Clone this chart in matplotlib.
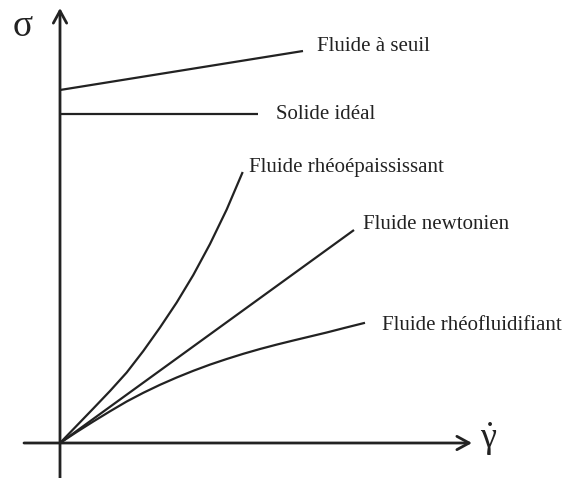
import matplotlib
matplotlib.use('Agg')
import matplotlib.pyplot as plt

# courbes d'ecoulement (unites arbitraires, gamma_dot en x, sigma en y)
seuil_x = [0.0, 24.3]
seuil_y = [35.3, 39.2]

solide_x = [0.0, 19.8]
solide_y = [32.9, 32.9]

newton_x = [0.0, 29.4]
newton_y = [0.0, 21.3]

epais_x = [0.0, 3.33, 5.0, 6.67, 8.33, 10.0, 11.67, 13.33, 15.0, 16.67, 18.27]
epais_y = [0.0, 3.45, 5.2, 7.05, 9.2, 11.55, 14.05, 16.8, 19.9, 23.35, 27.1]

fluid_x = [0.0, 1.67, 3.33, 5.0, 6.67, 8.33, 10.0, 11.67, 13.33, 15.0, 16.67,
           18.33, 20.0, 21.67, 23.33, 25.0, 26.67, 28.5, 30.5]
fluid_y = [0.0, 1.1, 2.15, 3.17, 4.15, 5.02, 5.82, 6.55, 7.22, 7.84, 8.4,
           8.92, 9.4, 9.84, 10.25, 10.65, 11.05, 11.52, 12.02]

labels = ['Fluide à seuil', 'Solide idéal', 'Fluide rhéoépaississant',
          'Fluide newtonien', 'Fluide rhéofluidifiant']
label_pos = [(25.7, 39.6), (21.6, 32.8), (18.9, 27.5), (30.3, 21.8), (32.2, 11.8)]

plt.rcParams['font.family'] = ['Liberation Serif', 'DejaVu Serif']
plt.rcParams['mathtext.fontset'] = 'custom'
plt.rcParams['mathtext.rm'] = 'Liberation Serif'
plt.rcParams['mathtext.it'] = 'Liberation Serif:italic'

col = '#222222'
fig = plt.figure(figsize=(5.64, 4.78), dpi=100)
ax = fig.add_axes([0, 0, 1, 1])
ax.set_xlim(-6.0, 50.4)
ax.set_ylim(-3.5, 44.3)
ax.axis('off')

# axes avec fleches
arrow = dict(arrowstyle='->,head_length=0.55,head_width=0.3', lw=2.0,
             color=col, mutation_scale=16, shrinkA=0, shrinkB=0)
ax.annotate('', xy=(41.2, 0), xytext=(-3.6, 0), arrowprops=arrow)
ax.annotate('', xy=(0, 43.5), xytext=(0, -3.6), arrowprops=arrow)

for xs, ys in [(seuil_x, seuil_y), (solide_x, solide_y), (newton_x, newton_y),
               (epais_x, epais_y), (fluid_x, fluid_y)]:
    ax.plot(xs, ys, color=col, lw=1.6, solid_capstyle='butt', solid_joinstyle='round')

for txt, (x, y) in zip(labels, label_pos):
    ax.text(x, y, txt, fontsize=15, ha='left', va='center', color=col)

# sigma et gamma point
ax.text(-3.7, 41.6, 'σ', fontsize=27, ha='center', va='center', color=col)
ax.text(42.9, 0.4, r'$\dot{\mathrm{γ}}$', fontsize=26, ha='center', va='center', color=col)

fig.savefig('out.png', dpi=100)
